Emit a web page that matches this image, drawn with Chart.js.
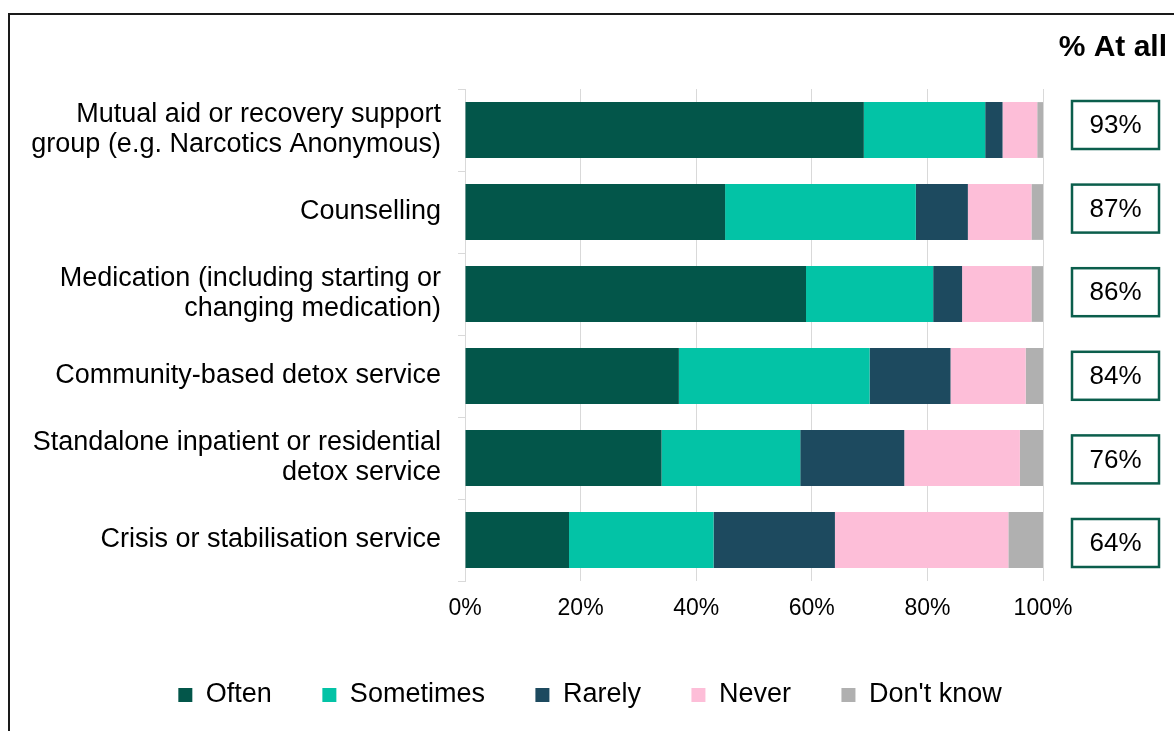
<!DOCTYPE html>
<html>
<head>
<meta charset="utf-8">
<title>Support accessed</title>
<script src="https://cdn.jsdelivr.net/npm/chart.js@4/dist/chart.umd.min.js"></script>
<style>
  html, body { margin: 0; padding: 0; background: #ffffff; }
  canvas { display: block; }
</style>
</head>
<body>
<canvas id="chart" width="1174" height="731"></canvas>
<script>
// Categories (top to bottom) and the share of responses for each answer, in %
const categories = [
  ["Mutual aid or recovery support", "group (e.g. Narcotics Anonymous)"],
  "Counselling",
  ["Medication (including starting or", "changing medication)"],
  "Community-based detox service",
  ["Standalone inpatient or residential", "detox service"],
  "Crisis or stabilisation service"
];
const often     = [69, 45, 59, 37, 34, 18];
const sometimes = [21, 33, 22, 33, 24, 25];
const rarely    = [3, 9, 5, 14, 18, 21];
const never     = [6, 11, 12, 13, 20, 30];
const dontKnow  = [1, 2, 2, 3, 4, 6];
const xTicks = [0, 20, 40, 60, 80, 100];

const FONT = "'Liberation Sans', Arial, Helvetica, sans-serif";
const colors = {
  often: '#03564A',
  sometimes: '#03C3A6',
  rarely: '#1D4A5F',
  never: '#FDBED8',
  dontKnow: '#B0B0B0'
};

// "% At all" = Often + Sometimes + Rarely, shown in boxes to the right of each bar
const atAll = often.map((v, i) => v + sometimes[i] + rarely[i]);

const sidePanel = {
  id: 'sidePanel',
  afterDraw(chart) {
    const ctx = chart.ctx;
    const yScale = chart.scales.y;
    ctx.save();

    // frame
    ctx.strokeStyle = '#1a1a1a';
    ctx.lineWidth = 2;
    ctx.beginPath();
    ctx.moveTo(9, chart.height + 2);
    ctx.lineTo(9, 14);
    ctx.lineTo(chart.width + 2, 14);
    ctx.stroke();

    // column heading
    ctx.fillStyle = '#000000';
    ctx.font = `bold 30px ${FONT}`;
    ctx.textAlign = 'right';
    ctx.textBaseline = 'middle';
    ctx.fillText('% At all', 1167, 48);

    // value boxes
    const boxLeft = 1072, boxW = 87, boxH = 48;
    ctx.font = `26px ${FONT}`;
    ctx.textAlign = 'center';
    atAll.forEach((v, i) => {
      const cy = yScale.getPixelForValue(i) + (i * 1.6 - 5);
      ctx.fillStyle = '#ffffff';
      ctx.fillRect(boxLeft, cy - boxH / 2, boxW, boxH);
      ctx.strokeStyle = '#0B5E4C';
      ctx.lineWidth = 2.5;
      ctx.strokeRect(boxLeft, cy - boxH / 2, boxW, boxH);
      ctx.fillStyle = '#000000';
      ctx.fillText(v + '%', boxLeft + boxW / 2, cy + 1);
    });
    ctx.restore();
  }
};

const ds = (label, data, color) => ({
  label, data,
  backgroundColor: color,
  borderWidth: 0,
  barPercentage: 0.68,
  categoryPercentage: 1.0
});

new Chart(document.getElementById('chart'), {
  type: 'bar',
  data: {
    labels: categories,
    datasets: [
      ds('Often', often, colors.often),
      ds('Sometimes', sometimes, colors.sometimes),
      ds('Rarely', rarely, colors.rarely),
      ds('Never', never, colors.never),
      ds("Don't know", dontKnow, colors.dontKnow)
    ]
  },
  options: {
    indexAxis: 'y',
    responsive: false,
    devicePixelRatio: 1,
    animation: false,
    layout: { padding: { left: 26, right: 20, top: 89, bottom: 12.5 } },
    scales: {
      x: {
        stacked: true,
        min: 0, max: 100,
        afterBuildTicks(scale) { scale.ticks = xTicks.map(v => ({ value: v })); },
        afterFit(scale) { scale.height = 50; },
        grid: { color: '#D9D9D9', lineWidth: 1, drawTicks: false },
        border: { display: false },
        ticks: {
          padding: 14,
          color: '#000000',
          font: { family: FONT, size: 23 },
          callback: v => v + '%'
        }
      },
      y: {
        stacked: true,
        afterFit(scale) { scale.width = 439; },
        grid: {
          offset: true,
          drawOnChartArea: false,
          color: '#D9D9D9',
          tickLength: 7
        },
        border: { display: true, color: '#D9D9D9', width: 1 },
        ticks: {
          padding: 17,
          color: '#000000',
          font: { family: FONT, size: 27, lineHeight: 1.11 }
        }
      },
      // empty right-hand band that holds the "% At all" column
      side: {
        type: 'category',
        position: 'right',
        axis: 'y',
        afterFit(scale) { scale.width = 111; },
        grid: { display: false },
        border: { display: false },
        ticks: { display: false }
      }
    },
    plugins: {
      legend: {
        position: 'bottom',
        labels: {
          boxWidth: 14,
          boxHeight: 14,
          padding: 50.5,
          color: '#000000',
          font: { family: FONT, size: 27 }
        }
      },
      tooltip: { enabled: false }
    }
  },
  plugins: [sidePanel]
});
</script>
</body>
</html>
